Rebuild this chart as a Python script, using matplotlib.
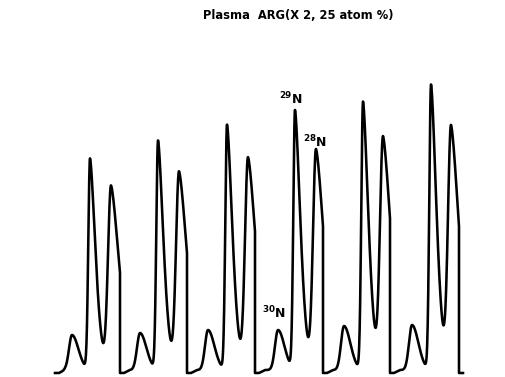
import numpy as np
import matplotlib
matplotlib.use('Agg')
import matplotlib.pyplot as plt

# six successive scans over the nitrogen masses 30, 29, 28
scan_start = [55, 120, 187, 255, 323, 390]
scan_end = [120, 187, 255, 323, 390, 459]

# peak positions (scan time, arb. units)
pos30 = [72, 140, 208, 278, 344, 412]
pos29 = [90, 158, 227, 295, 363, 431]
pos28 = [111, 179, 248, 316, 383, 451]

# peak heights (arb. units)
h30 = [35, 37, 40, 40, 44, 45]
h29 = [211, 229, 245, 259, 268, 285]
h28 = [183, 197, 211, 219, 231, 242]

# peak shape: (left sigma, right width, right exponent)
w30 = (3.0, 9.0, 2.0)
w29 = (1.7, 7.8, 1.6)
w28 = (3.0, 12.0, 1.6)
floor = 3.0


def peak(x, x0, h, w):
    wl, wr, p = w
    left = np.exp(-0.5 * ((x - x0) / wl) ** 2)
    right = np.exp(-(np.abs(x - x0) / wr) ** p)
    return h * np.where(x < x0, left, right)


xs, ys = [], []
for i in range(6):
    x = np.linspace(scan_start[i], scan_end[i], 400)
    y = (peak(x, pos30[i], h30[i], w30) + peak(x, pos29[i], h29[i], w29)
         + peak(x, pos28[i], h28[i], w28))
    y = y + floor * np.clip((x - scan_start[i] - 4) / 6.0, 0, 1)
    y[0] = 0
    xs += list(x) + [scan_end[i]]
    ys += list(y) + [0]
xs += [463]
ys += [0]

fig = plt.figure(figsize=(5.05, 3.77), dpi=100)
ax = fig.add_axes([0, 0, 1, 1])
ax.plot(xs, ys, color='k', lw=1.85, solid_joinstyle='round')
ax.set_xlim(0, 505)
ax.set_ylim(-4, 373)
ax.axis('off')

fig.text(0.5905, 0.960, 'Plasma  ARG(X 2, 25 atom %)', ha='center', va='center',
         fontsize=8.3, fontweight='bold')

lab = dict(ha='left', va='center', fontsize=9, fontweight='bold')
ax.text(279, 274, r'$^{\mathbf{29}}$N', **lab)
ax.text(303, 231, r'$^{\mathbf{28}}$N', **lab)
ax.text(262, 60, r'$^{\mathbf{30}}$N', **lab)

fig.savefig('out.png', dpi=100)
